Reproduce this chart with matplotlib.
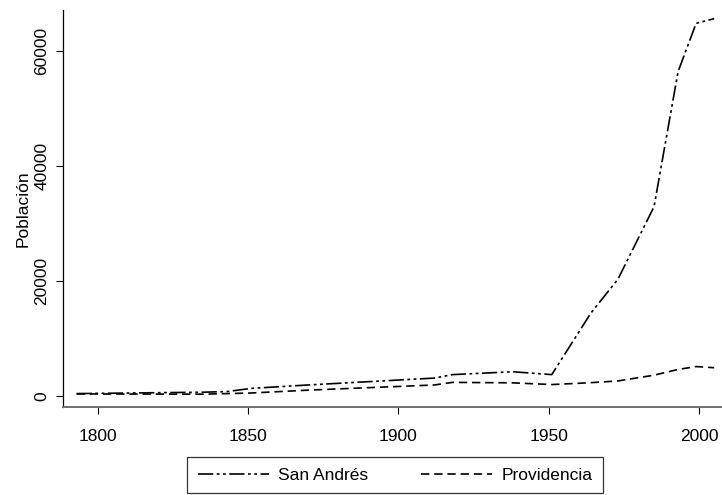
import matplotlib
matplotlib.use("Agg")
import matplotlib.pyplot as plt

# Censos de población
years = [1793, 1835, 1843, 1851, 1870, 1912, 1918, 1938, 1951, 1964, 1973, 1985, 1993, 1999, 2005]
san_andres = [400, 640, 750, 1300, 1900, 3100, 3700, 4200, 3700, 14400, 20300, 32900, 56400, 64800, 65600]
providencia = [340, 300, 400, 500, 1000, 1900, 2350, 2270, 1970, 2300, 2600, 3600, 4600, 5100, 4900]

x_ticks = [1800, 1850, 1900, 1950, 2000]
y_ticks = [0, 20000, 40000, 60000]

plt.rcParams["font.family"] = ["Liberation Sans", "DejaVu Sans"]
plt.rcParams["lines.scale_dashes"] = False

fig = plt.figure(figsize=(7.22, 4.95), dpi=100)
ax = fig.add_axes([0.0873, 0.178, 0.9127, 0.802])

ax.plot(years, san_andres, color="black", lw=1.2,
        dashes=(11, 2.5, 2, 2.5, 2, 2.5), label="San Andrés")
ax.plot(years, providencia, color="black", lw=1.2,
        dashes=(6, 3.5), label="Providencia")

ax.set_xlim(1788.5, 2007.6)
ax.set_ylim(-1913, 67130)
ax.set_xticks(x_ticks)
ax.set_yticks(y_ticks)
ax.set_yticklabels([str(v) for v in y_ticks], rotation=90, va="center")

ax.tick_params(axis="both", labelsize=12.5, direction="out", length=5, width=0.8)
ax.tick_params(axis="x", pad=11)
ax.tick_params(axis="y", pad=5)

ax.spines["top"].set_visible(False)
ax.spines["right"].set_visible(False)
ax.spines["left"].set_color("black")
ax.spines["left"].set_linewidth(0.9)
ax.spines["bottom"].set_color("#707070")
ax.spines["bottom"].set_linewidth(1.4)

ax.set_ylabel("Población", fontsize=12.5, labelpad=2.5)

leg = fig.legend(loc="center", bbox_to_anchor=(0.547, 0.04), ncol=2,
                 fontsize=12.5, handlelength=4.1, frameon=True, fancybox=False,
                 edgecolor="black", borderpad=0.6, columnspacing=3.0,
                 handletextpad=0.55)
leg.get_frame().set_linewidth(0.9)

plt.savefig("out.png", dpi=100)
plt.close()
